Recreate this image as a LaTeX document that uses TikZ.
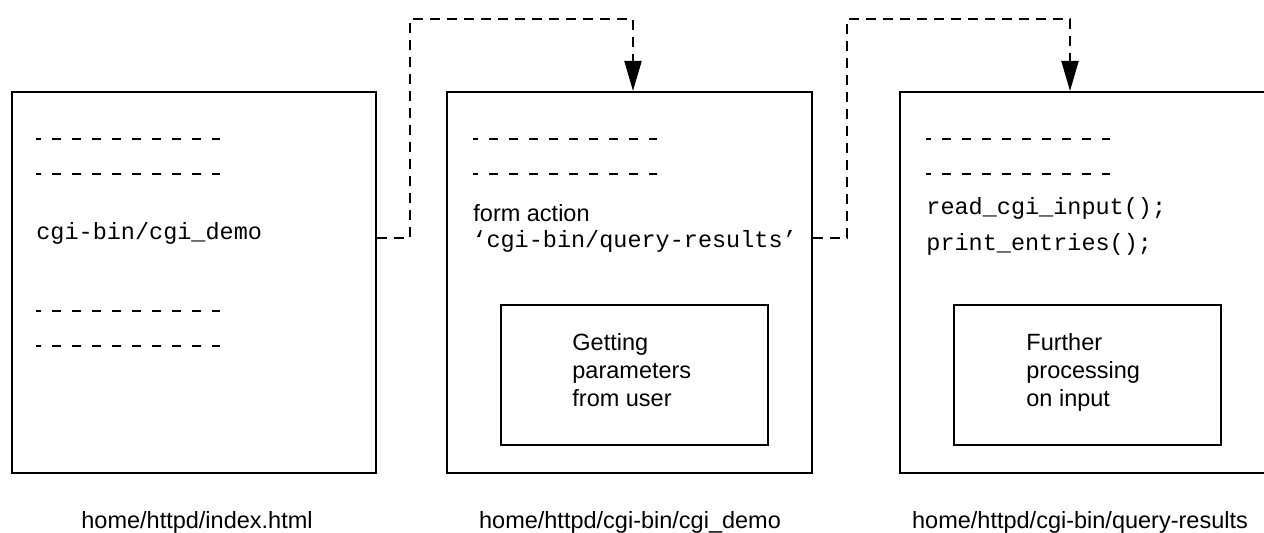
\documentclass[tikz,border=0pt]{standalone}
\usepackage{fontspec}
\setmainfont{Liberation Sans}
\setmonofont{Liberation Mono}
\usetikzlibrary{arrows.meta}

\begin{document}
\begin{tikzpicture}[x=0.5pt, y=-0.5pt,
        page/.style={draw, line width=1pt, inner sep=0pt, minimum height=190.5pt},
        task/.style={draw, line width=1pt, inner sep=0pt, minimum width=133.5pt, minimum height=70pt},
        filler/.style={line width=1pt, dash pattern=on 4.5pt off 5.5pt, dash phase=2pt},
        link/.style={line width=1pt, dash pattern=on 5pt off 3.5pt, -{Triangle[length=15pt, width=8.5pt]}},
        codeline/.style={anchor=base west, inner sep=0pt, font=\fontsize{11.75}{14}\ttfamily},
        plain/.style={anchor=base west, inner sep=0pt, align=left, font=\fontsize{11.75}{14}\selectfont},
        pathname/.style={anchor=base, inner sep=0pt, font=\fontsize{11.75}{14}\selectfont}]
        \useasboundingbox (0,0) rectangle (1264,533);

        \node[page, minimum width=182pt] (index) at (194,282.5) {};
        \node[page, minimum width=182.5pt] (demo) at (629.5,282.5) {};
        \node[page, minimum width=190pt] (query) at (1090,282.5) {};
        \node[task] (getparams) at (634.5,375) {};
        \node[task] (further) at (1087.5,375) {};

        \draw[filler] (36,139) -- (220,139);
        \draw[filler] (36,174) -- (220,174);
        \draw[filler] (36,311) -- (220,311);
        \draw[filler] (36,346) -- (220,346);
        \draw[filler] (473,139) -- (657,139);
        \draw[filler] (473,174) -- (657,174);
        \draw[filler] (926,139) -- (1110,139);
        \draw[filler] (926,174) -- (1110,174);

        \node[codeline] (demolink) at (36,240) {cgi-bin/cgi\_demo};
        \node[plain] (formaction) at (473,222) {form action};
        \node[codeline] (formtarget) at (472,248) {‘cgi-bin/query-results’};
        \node[codeline] (readinput) at (926,215) {read\_cgi\_input();};
        \node[codeline] (printentries) at (926,251) {print\_entries();};
        \node[plain] (getparamstext) at (572,407) {Getting\\parameters\\from user};
        \node[plain] (furthertext) at (1026,407) {Further\\processing\\on input};

        \node[pathname] (indexname) at (197,529) {home/httpd/index.html};
        \node[pathname] (demoname) at (630,529) {home/httpd/cgi-bin/cgi\_demo};
        \node[pathname] (queryname) at (1080,529) {home/httpd/cgi-bin/query-results};

        \coordinate (via1) at (410,19);
        \coordinate (via2) at (847,19);
        \draw[link] ([yshift=22.25pt]index.east) -| (via1) -| ([xshift=1.75pt]demo.north);
        \draw[link] ([yshift=22.25pt]demo.east) -| (via2) -| ([xshift=-10pt]query.north);
    \end{tikzpicture}
\end{document}
